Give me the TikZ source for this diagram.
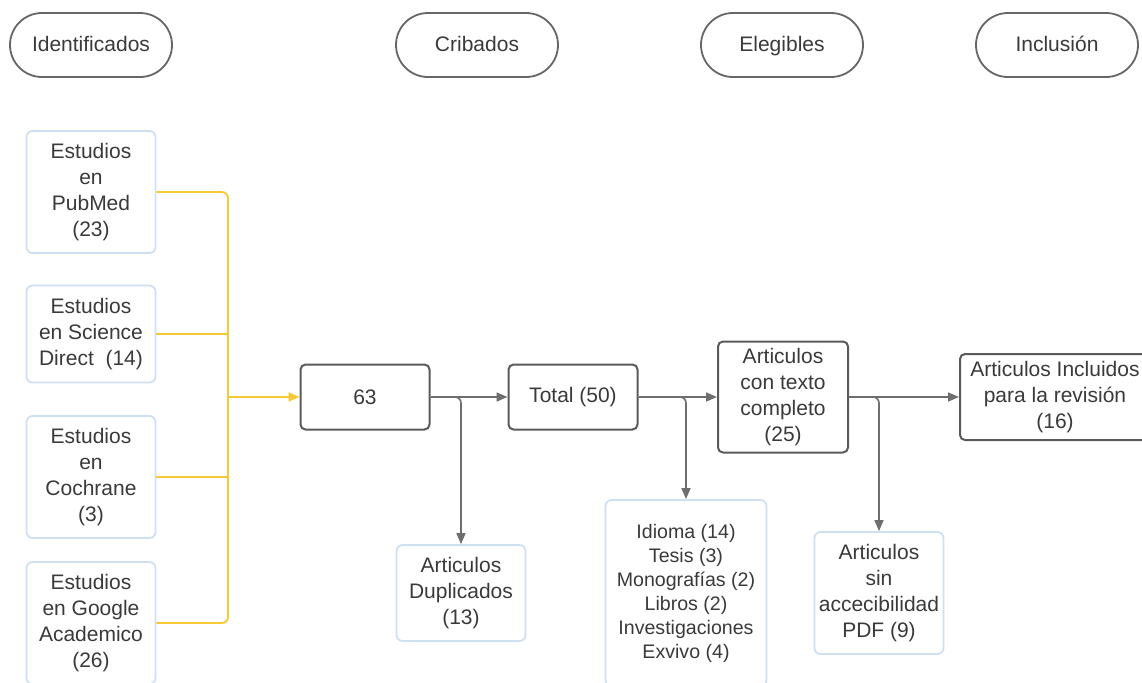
\documentclass[tikz,border=0pt]{standalone}
\usepackage{fontspec}
\setmainfont{Liberation Sans}
\usetikzlibrary{arrows.meta,calc}
\definecolor{txt}{HTML}{3A3A3A}
\definecolor{boxc}{HTML}{5A5A5A}
\definecolor{ovalc}{HTML}{666666}
\definecolor{lightc}{HTML}{CFE0F2}
\definecolor{yelc}{HTML}{F6C935}
\definecolor{linec}{HTML}{6E6E6E}
\begin{document}
\begin{tikzpicture}[x=0.5pt,y=-0.5pt,
  base/.style={align=center, text=txt, font=\fontsize{10.5}{13}\selectfont, inner sep=0pt},
  phase/.style={base, draw=ovalc, line width=0.9pt, rounded corners=16pt, minimum width=81pt, minimum height=32pt, text height=8pt, text depth=2pt},
  mainbox/.style={base, draw=boxc, line width=1pt, rounded corners=2.5pt},
  srcbox/.style={base, draw=lightc, line width=0.9pt, rounded corners=3pt},
  conn/.style={draw=linec, line width=0.8pt, rounded corners=3pt},
  arr/.style={conn, -{Triangle[length=5.5pt,width=4.5pt]}},
  yconn/.style={draw=yelc, line width=0.9pt, rounded corners=3pt},
  yarr/.style={yconn, -{Triangle[length=5.5pt,width=4.5pt]}}
]
\useasboundingbox (0,0) rectangle (1142,682);
\fill[white] (0,0) rectangle (1142,682);

% phase headers
\node[phase] (ph1) at (91,45) {Identificados};
\node[phase] (ph2) at (477,45) {Cribados};
\node[phase] (ph3) at (782,45) {Elegibles};
\node[phase] (ph4) at (1057,45) {Inclusión};

% sources
\node[srcbox, minimum width=64.5pt, minimum height=61pt] (pub) at (91,192) {Estudios\\en\\PubMed\\(23)};
\node[srcbox, minimum width=64.5pt, minimum height=48.5pt] (sci) at (91,334) {Estudios\\en Science\\Direct~~(14)};
\node[srcbox, minimum width=64.5pt, minimum height=61pt] (coc) at (91,477) {Estudios\\en\\Cochrane\\(3)};
\node[srcbox, minimum width=64.5pt, minimum height=61pt] (goo) at (91,623) {Estudios\\en Google\\Academico\\(26)};

% main flow
\node[mainbox, minimum width=64.5pt, minimum height=32.5pt] (n63) at (365,397) {63};
\node[mainbox, minimum width=64.5pt, minimum height=32.5pt] (tot) at (573,397) {Total (50)};
\node[mainbox, minimum width=65pt, minimum height=55.5pt] (comp) at (783,397) {Articulos\\con texto\\completo\\(25)};
\node[mainbox, minimum width=95pt, minimum height=43pt] (inc) at (1055,397) {Articulos Incluidos\\para la revisión\\(16)};

% exclusions
\node[srcbox, minimum width=64.5pt, minimum height=48pt] (dup) at (461,593) {Articulos\\Duplicados\\(13)};
\node[srcbox, minimum width=80.5pt, minimum height=93pt, font=\fontsize{9.8}{12}\selectfont] (exc) at (686,593) {Idioma (14)\\Tesis (3)\\Monografías (2)\\Libros (2)\\Investigaciones\\Exvivo (4)};
\node[srcbox, minimum width=64.5pt, minimum height=61pt] (sin) at (879,593) {Articulos\\sin\\accecibilidad\\PDF (9)};

% yellow bus
\coordinate (yx) at (228,0);
\coordinate (yj) at (228,397);
\draw[yconn] (pub.east) -| (goo.east -| yx) -- (goo.east);
\draw[yconn] (sci.east) -- (sci.east -| yx);
\draw[yconn] (coc.east) -- (coc.east -| yx);
\draw[yarr] (yj) -- (n63.west);

% grey connectors
\draw[arr] (n63.east) -- (tot.west);
\draw[arr] (n63.east) -| (dup.north);
\draw[arr] (tot.east) -- (comp.west);
\draw[arr] (tot.east) -| (exc.north);
\draw[arr] (comp.east) -- (inc.west);
\draw[arr] (comp.east) -| (sin.north);
\end{tikzpicture}
\end{document}
